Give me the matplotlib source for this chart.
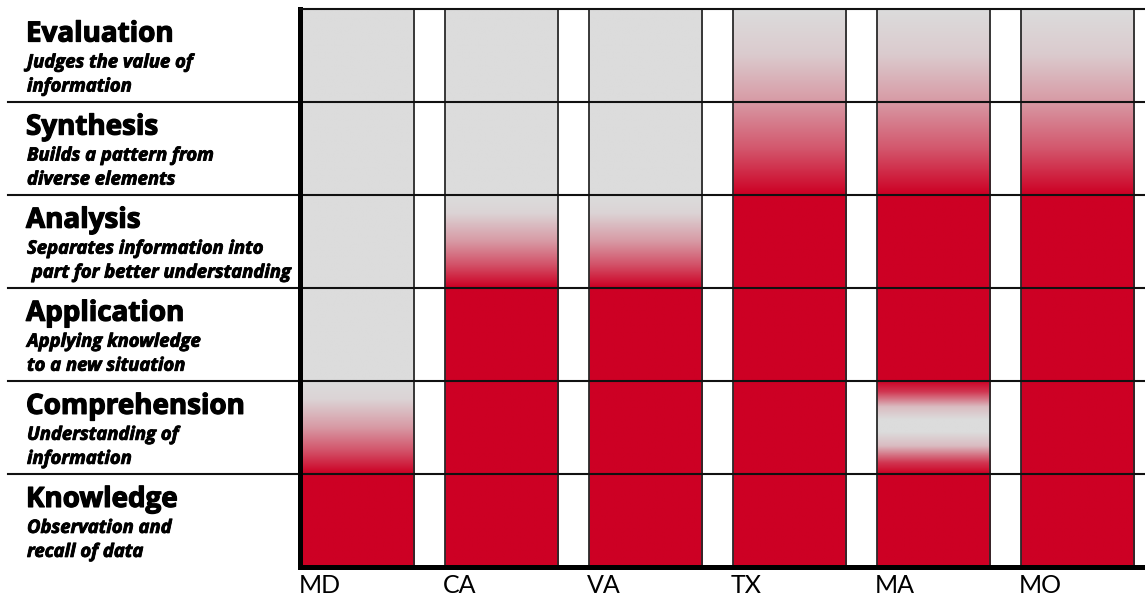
import numpy as np
import matplotlib
matplotlib.use("Agg")
import matplotlib.pyplot as plt
from matplotlib.colors import LinearSegmentedColormap
from matplotlib import transforms
import matplotlib.patheffects as pe

# ---------------- data ----------------
levels = ["Knowledge", "Comprehension", "Application", "Analysis", "Synthesis", "Evaluation"]
level_desc = [
    ["Observation and", "recall of data"],
    ["Understanding of", "information"],
    ["Applying knowledge", "to a new situation"],
    ["Separates information into", " part for better understanding"],
    ["Builds a pattern from", "diverse elements"],
    ["Judges the value of", "information"],
]
states = ["MD", "CA", "VA", "TX", "MA", "MO"]

# coverage intensity stops: (level position from bottom, intensity 0=grey..1=red)
cov_MD = [(0, 1), (1, 1), (1.25, 0.62), (1.5, 0.3), (1.8, 0.04), (2, 0), (6, 0)]
cov_CA = [(0, 1), (3, 1), (3.25, 0.62), (3.5, 0.3), (3.8, 0.04), (4, 0), (6, 0)]
cov_VA = [(0, 1), (3, 1), (3.25, 0.62), (3.5, 0.3), (3.8, 0.04), (4, 0), (6, 0)]
cov_TX = [(0, 1), (4, 1), (4.5, 0.6), (5, 0.3), (5.5, 0.08), (6, 0)]
cov_MA = [(0, 1), (1, 1), (1.12, 0.75), (1.3, 0.15), (1.45, 0), (1.58, 0), (1.72, 0.15),
          (1.88, 0.75), (2, 1), (4, 1), (4.5, 0.6), (5, 0.3), (5.5, 0.08), (6, 0)]
cov_MO = [(0, 1), (4, 1), (4.5, 0.6), (5, 0.3), (5.5, 0.08), (6, 0)]
coverage = [cov_MD, cov_CA, cov_VA, cov_TX, cov_MA, cov_MO]

# ---------------- style ----------------
GREY = "#DCDCDC"
RED = "#CD0024"
cmap = LinearSegmentedColormap.from_list("cov", [GREY, RED])
W, H, DPI = 1145, 598, 100
title_font = "Open Sans"

fig = plt.figure(figsize=(W / DPI, H / DPI), dpi=DPI)
ax_left, ax_right, ax_top, ax_bot = 300, 1145, 8.5, 567
ax = fig.add_axes([ax_left / W, (H - ax_bot) / H, (ax_right - ax_left) / W, (ax_bot - ax_top) / H])

n_levels = len(levels)
col_w = 0.785
xs = np.arange(len(states))

ygrid = np.linspace(0, n_levels, 1200)
for x, stops in zip(xs, coverage):
    pos = [p for p, _ in stops]
    val = [v for _, v in stops]
    col = np.interp(ygrid, pos, val)[::-1].reshape(-1, 1)
    ax.imshow(col, cmap=cmap, vmin=0, vmax=1, aspect="auto",
              extent=[x - col_w / 2, x + col_w / 2, 0, n_levels],
              interpolation="bilinear", zorder=1)
    ax.vlines([x - col_w / 2, x + col_w / 2], 0, n_levels, color="#2a2a2a", lw=1.3, zorder=2)

ax.set_xlim(-0.396, 5.47)
ax.set_ylim(0, n_levels)

# row separator lines spanning label area and plot
trans = transforms.blended_transform_factory(fig.transFigure, ax.transData)
for y in range(1, n_levels):
    ax.plot([8 / W, 1.0], [y, y], color="#111111", lw=1.5, transform=trans,
            clip_on=False, zorder=3)

ax.spines["right"].set_visible(False)
ax.spines["top"].set_linewidth(1.5)
ax.spines["top"].set_color("#111111")
ax.spines["left"].set_linewidth(3.6)
ax.spines["bottom"].set_linewidth(3.6)
for s in ["left", "bottom", "top"]:
    ax.spines[s].set_zorder(4)
ax.set_xticks([])
ax.set_yticks([])

# state labels
for x, st in zip(xs, states):
    ax.text(x - col_w / 2 - 0.012, -0.07, st, ha="left", va="top", fontsize=18,
            family="Lato", transform=ax.transData, clip_on=False)

# level labels
thick_t = [pe.withStroke(linewidth=0.9, foreground="black")]
thick_s = [pe.withStroke(linewidth=0.6, foreground="black")]
row_h = (ax_bot - ax_top) / n_levels
for i, (name, desc) in enumerate(zip(levels, level_desc)):
    top_px = ax_top + (n_levels - 1 - i) * row_h
    fig.text(26 / W, 1 - (top_px + 33) / H, name, ha="left", va="baseline",
             fontsize=20, fontweight="bold", family=title_font, path_effects=thick_t)
    for k, line in enumerate(desc):
        fig.text(27 / W, 1 - (top_px + 59 + 24 * k) / H, line, ha="left", va="baseline",
                 fontsize=13.3, fontweight="bold", fontstyle="italic", family=title_font,
                 path_effects=thick_s)

fig.savefig("out.png", dpi=DPI)
